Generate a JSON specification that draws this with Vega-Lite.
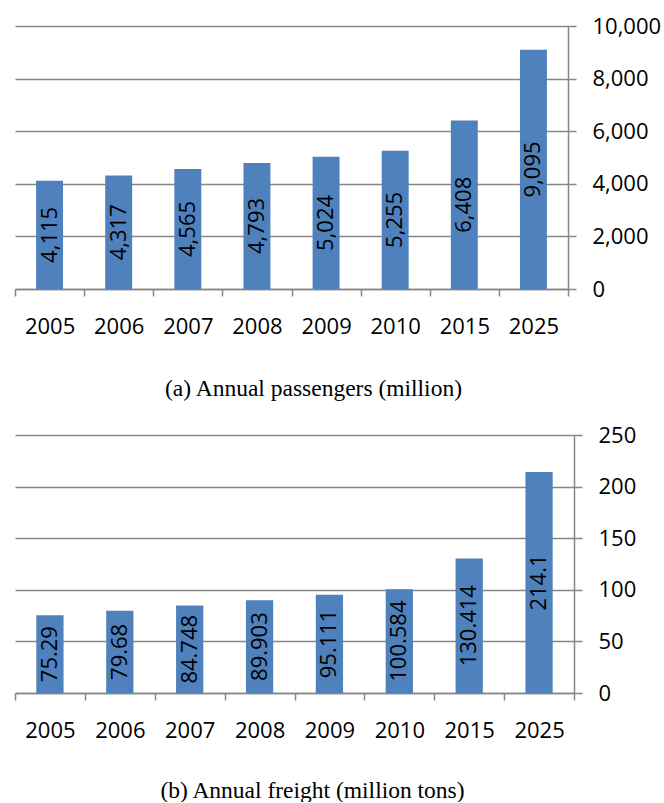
{
  "$schema": "https://vega.github.io/schema/vega-lite/v6.json",
  "padding": {"left": 14, "top": 15, "right": 0, "bottom": 0},
  "background": "white",
  "spacing": 24,
  "config": {
    "view": {"stroke": null},
    "font": "Open Sans",
    "axis": {
      "labelFont": "Open Sans",
      "labelFontSize": 22,
      "labelColor": "black",
      "domainColor": "#868686",
      "tickColor": "#868686",
      "gridColor": "#868686",
      "domainWidth": 1.5,
      "tickWidth": 1.5,
      "gridWidth": 1.3,
      "titleFont": "Liberation Serif",
      "titleFontSize": 23.5,
      "titleFontWeight": "normal",
      "titleColor": "black"
    }
  },
  "vconcat": [
    {
      "width": 553,
      "height": 263,
      "data": {"values": [
        {"year": "2005", "v": 4115},
        {"year": "2006", "v": 4317},
        {"year": "2007", "v": 4565},
        {"year": "2008", "v": 4793},
        {"year": "2009", "v": 5024},
        {"year": "2010", "v": 5255},
        {"year": "2015", "v": 6408},
        {"year": "2025", "v": 9095}
      ]},
      "layer": [
        {
          "mark": {"type": "bar", "color": "#4F81BD", "width": {"band": 0.39}},
          "encoding": {
            "x": {"field": "year", "type": "ordinal",
              "scale": {"paddingInner": 0, "paddingOuter": 0},
              "axis": {"title": "(a) Annual passengers (million)", "titlePadding": 39, "titleX": 298, "labelAngle": 0, "tickBand": "extent", "tickSize": 7, "labelPadding": 20, "grid": false}},
            "y": {"field": "v", "type": "quantitative",
              "scale": {"domain": [0, 10000]},
              "axis": {"orient": "right", "title": null, "values": [0, 2000, 4000, 6000, 8000, 10000], "labelExpr": "format(datum.value, ',')", "tickSize": 8, "labelPadding": 16, "grid": true}}
          }
        },
        {
          "mark": {"type": "text", "angle": 270, "align": "center", "baseline": "middle", "fontSize": 22, "font": "Open Sans", "color": "black"},
          "encoding": {
            "x": {"field": "year", "type": "ordinal"},
            "y": {"field": "v", "type": "quantitative", "scale": {"domain": [0, 20000]}, "axis": null},
            "text": {"field": "v", "type": "quantitative", "format": ","}
          }
        }
      ],
      "resolve": {"scale": {"y": "independent"}}
    },
    {
      "width": 559,
      "height": 258,
      "data": {"values": [
        {"year": "2005", "v": 75.29},
        {"year": "2006", "v": 79.68},
        {"year": "2007", "v": 84.748},
        {"year": "2008", "v": 89.903},
        {"year": "2009", "v": 95.111},
        {"year": "2010", "v": 100.584},
        {"year": "2015", "v": 130.414},
        {"year": "2025", "v": 214.1}
      ]},
      "layer": [
        {
          "mark": {"type": "bar", "color": "#4F81BD", "width": {"band": 0.39}},
          "encoding": {
            "x": {"field": "year", "type": "ordinal",
              "scale": {"paddingInner": 0, "paddingOuter": 0},
              "axis": {"title": "(b) Annual freight (million tons)", "titlePadding": 37, "titleX": 297, "labelAngle": 0, "tickBand": "extent", "tickSize": 7, "labelPadding": 20, "grid": false}},
            "y": {"field": "v", "type": "quantitative",
              "scale": {"domain": [0, 250]},
              "axis": {"orient": "right", "title": null, "values": [0, 50, 100, 150, 200, 250], "tickSize": 8, "labelPadding": 16, "grid": true}}
          }
        },
        {
          "mark": {"type": "text", "angle": 270, "align": "center", "baseline": "middle", "fontSize": 22, "font": "Open Sans", "color": "black"},
          "encoding": {
            "x": {"field": "year", "type": "ordinal"},
            "y": {"field": "v", "type": "quantitative", "scale": {"domain": [0, 500]}, "axis": null},
            "text": {"field": "v", "type": "quantitative", "format": "~r"}
          }
        }
      ],
      "resolve": {"scale": {"y": "independent"}}
    }
  ]
}
